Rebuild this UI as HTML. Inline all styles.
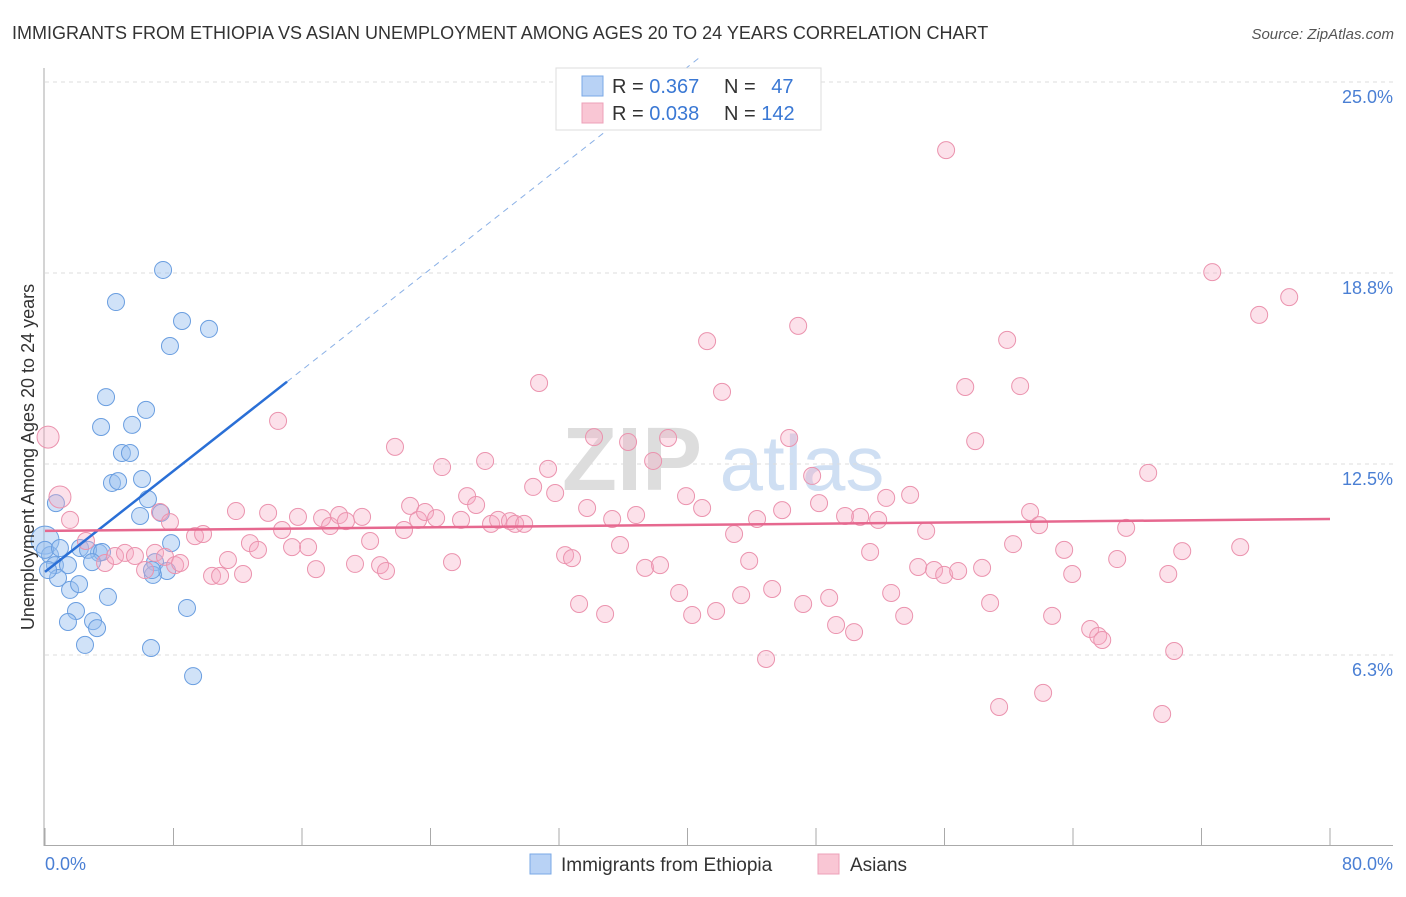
<!DOCTYPE html>
<html><head><meta charset="utf-8"><style>
body{margin:0;background:#fff;font-family:"Liberation Sans",sans-serif;}
svg text{font-family:"Liberation Sans",sans-serif;}
</style></head><body>
<svg id="chart" width="1406" height="892" xmlns="http://www.w3.org/2000/svg">
<text x="12" y="39" font-size="18" fill="#333">IMMIGRANTS FROM ETHIOPIA VS ASIAN UNEMPLOYMENT AMONG AGES 20 TO 24 YEARS CORRELATION CHART</text>
<text x="1394" y="39" font-size="15" fill="#555" font-style="italic" text-anchor="end">Source: ZipAtlas.com</text>
<g><text x="632" y="490" font-size="90" fill="#ddd" font-family="Liberation Serif" text-anchor="middle" font-weight="bold">ZIP</text><text x="802" y="490" font-size="78" fill="#cfdff3" text-anchor="middle">atlas</text></g>
<g id="grid"></g><g id="axes"></g><g id="pts"></g><g id="lines"></g>
<text transform="translate(34,457) rotate(-90)" font-size="18" fill="#333" text-anchor="middle">Unemployment Among Ages 20 to 24 years</text>
<text x="45" y="870" font-size="18" fill="#4a7fd4">0.0%</text>
<text x="1393" y="870" font-size="18" fill="#4a7fd4" text-anchor="end">80.0%</text>
<g>
<rect x="556" y="68" width="265" height="62" fill="#fff" stroke="#ddd"/>
<rect x="582" y="76" width="21" height="20" fill="#b8d2f5" stroke="#7aa8e6"/>
<rect x="582" y="103" width="21" height="20" fill="#f9c6d4" stroke="#eda0b8"/>
<text x="612" y="93" font-size="20" fill="#333">R = <tspan fill="#3a78d4">0.367</tspan></text>
<text x="724" y="93" font-size="20" fill="#333">N = <tspan fill="#3a78d4" dx="10">47</tspan></text>
<text x="612" y="120" font-size="20" fill="#333">R = <tspan fill="#3a78d4">0.038</tspan></text>
<text x="724" y="120" font-size="20" fill="#333">N = <tspan fill="#3a78d4">142</tspan></text>
</g>
<g>
<rect x="530" y="854" width="21" height="20" fill="#b8d2f5" stroke="#7aa8e6"/>
<text x="561" y="871" font-size="19" fill="#333">Immigrants from Ethiopia</text>
<rect x="818" y="854" width="21" height="20" fill="#f9c6d4" stroke="#eda0b8"/>
<text x="850" y="871" font-size="19" fill="#333">Asians</text>
</g>
</svg>
<script>
const yTicks=[25.0,18.8,12.5,6.3];
const yTickVals=[25,18.75,12.5,6.25];
const xTickVals=[0,8,16,24,32,40,48,56,64,72,80];
const blueX=[7.35,4.42,8.53,10.21,7.78,3.80,6.29,3.49,5.42,4.79,5.29,4.17,4.55,6.04,6.41,5.92,7.22,0.68,0.0,0.31,0.62,1.43,2.18,3.36,2.68,3.55,2.93,7.85,6.85,7.60,6.72,0.81,1.56,2.12,3.92,1.93,1.43,2.99,3.24,2.49,8.84,6.60,9.22,0.0,0.93,0.19,6.66];
const blueY=[18.85,17.80,17.18,16.92,16.36,14.69,14.27,13.71,13.78,12.86,12.86,11.88,11.94,12.01,11.35,10.80,10.90,11.22,10.01,9.52,9.19,9.19,9.75,9.59,9.69,9.62,9.29,9.91,9.29,9.00,8.87,8.77,8.38,8.57,8.15,7.69,7.33,7.36,7.13,6.58,7.79,6.48,5.56,9.69,9.75,9.03,9.03];
const pinkX=[0.19,0.93,1.56,2.55,3.74,4.36,4.98,5.60,6.23,6.85,7.47,8.10,8.41,7.16,7.78,9.34,9.84,10.40,10.90,11.39,11.89,12.33,12.76,13.26,13.89,14.51,14.76,15.38,15.75,16.38,16.87,17.25,17.75,18.31,18.74,19.30,19.74,20.24,20.86,21.23,21.79,22.35,22.73,23.23,23.66,24.35,24.72,25.34,25.90,26.28,26.84,27.40,27.77,28.21,28.95,29.27,29.83,30.39,30.76,31.32,31.76,32.38,32.81,33.25,33.75,34.18,34.87,35.31,35.80,36.30,36.80,37.36,37.86,38.29,38.79,39.48,39.91,40.29,40.91,41.22,41.78,42.15,42.90,43.34,43.84,44.33,44.89,45.27,45.89,46.33,46.89,47.20,47.76,48.19,48.82,49.25,49.81,50.37,50.75,51.37,51.87,52.37,52.68,53.49,53.86,54.36,54.86,55.35,55.98,56.10,56.85,57.29,57.91,58.34,58.84,59.40,59.90,60.27,60.71,61.33,61.89,62.14,62.70,63.45,63.95,65.07,65.57,65.82,66.75,67.31,68.68,69.55,69.93,70.30,70.80,72.67,74.41,75.59,77.46];
const pinkY=[13.38,11.42,10.67,9.98,9.26,9.49,9.59,9.49,9.03,9.59,9.46,9.19,9.26,10.93,10.60,10.14,10.21,8.84,8.84,9.36,10.96,8.90,9.91,9.69,10.90,13.91,10.34,9.78,10.77,9.78,9.06,10.73,10.47,10.83,10.63,9.23,10.77,9.98,9.19,9.00,13.06,10.34,11.13,10.67,10.93,10.73,12.40,9.29,10.67,11.45,11.16,12.60,10.54,10.67,10.63,10.54,10.54,11.75,15.15,12.34,11.55,9.52,9.42,7.92,11.06,13.38,7.59,10.70,9.85,13.22,10.83,9.10,12.60,9.19,13.35,8.28,11.45,7.56,11.06,16.52,7.69,14.86,10.21,8.21,9.33,10.70,6.12,8.41,10.99,13.35,17.02,7.92,12.11,11.22,8.12,7.23,10.80,7.00,10.77,9.62,10.67,11.39,8.28,7.53,11.49,9.13,10.31,9.03,8.87,22.77,9.00,15.02,13.25,9.10,7.95,4.55,16.56,9.88,15.05,10.93,10.50,5.01,7.53,9.69,8.90,7.10,6.87,6.74,9.39,10.41,12.21,4.32,8.90,6.38,9.65,18.78,9.78,17.38,17.96];
const blueFit=[8.97,0.413]; // intercept, slope
const pinkFit=[10.31,0.0049];
const NS="http://www.w3.org/2000/svg";
const X=v=>45+v/80*1285, Y=v=>846-v/6.25*191;
function mk(p,t,a){const e=document.createElementNS(NS,t);for(const k in a)e.setAttribute(k,a[k]);document.getElementById(p).appendChild(e);return e;}
yTickVals.forEach((v,i)=>{
 const g=mk('grid','line',{x1:45,x2:1393,y1:Y(v),y2:Y(v),stroke:'#ddd','stroke-dasharray':'4,4'});
 
 
 const t=mk('grid','text',{x:1393,y:Y(v)+21,'font-size':18,fill:'#4a7fd4','text-anchor':'end'});
 t.textContent=yTicks[i].toFixed(1)+'%';
 
 
});
const ax=mk('axes','line',{x1:44,x2:44,y1:68,y2:846,stroke:'#aaa'});


const bx=mk('axes','line',{x1:44,x2:1393,y1:845.5,y2:845.5,stroke:'#aaa'});


xTickVals.forEach(v=>{
 const t=mk('axes','line',{x1:X(v),x2:X(v),y1:828,y2:846,stroke:'#aaa'});
 
 
});
blueX.forEach((x,i)=>{
 const c=mk('pts','circle',{cx:X(x),cy:Y(blueY[i]),r:(x===0&&blueY[i]>9.9)?14:8.5,fill:'rgba(150,190,240,0.45)',stroke:'#6a9ee0','stroke-width':1});
 
 
});
pinkX.forEach((x,i)=>{
 const c=mk('pts','circle',{cx:X(x),cy:Y(pinkY[i]),r:(i<2)?11:8.5,fill:'rgba(245,170,195,0.35)',stroke:'#eb93ae','stroke-width':1});
 
 
});
const bEnd=15.07, bTop=(25.8-blueFit[0])/blueFit[1];
const l1=mk('lines','line',{x1:X(0),y1:Y(blueFit[0]),x2:X(bEnd),y2:Y(blueFit[0]+blueFit[1]*bEnd),stroke:'#2a6fd6','stroke-width':2.5});


const l2=mk('lines','line',{x1:X(bEnd),y1:Y(blueFit[0]+blueFit[1]*bEnd),x2:X(bTop),y2:Y(25.8),stroke:'#8ab0e6','stroke-width':1,'stroke-dasharray':'6,5'});


const l3=mk('lines','line',{x1:X(0),y1:Y(pinkFit[0]),x2:X(80),y2:Y(pinkFit[0]+pinkFit[1]*80),stroke:'#e6688f','stroke-width':2.5});


</script>
</body></html>
